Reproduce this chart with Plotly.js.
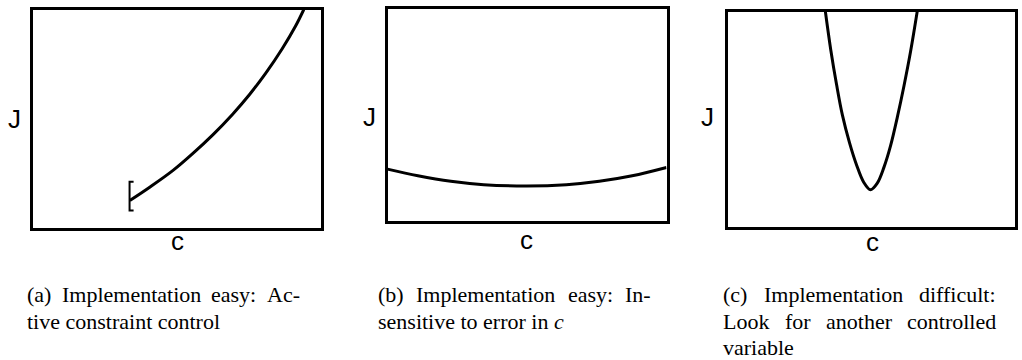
<!DOCTYPE html>
<html>
<head>
<meta charset="utf-8">
<script src="https://cdn.plot.ly/plotly-3.0.1.min.js"></script>
<style>html,body{margin:0;padding:0;background:#fff;}</style>
</head>
<body>
<div id="chart" style="width:1022px;height:360px;"></div>
<script>
// ---- data (c on 0..10, J on 0..10 in every panel) ----
// (a) cost keeps rising away from the active constraint
const cA = [3.38, 4.07, 4.88, 5.57, 6.26, 6.95, 7.53, 8.10, 8.67, 9.13, 9.42];
const jA = [1.24, 1.85, 2.62, 3.40, 4.25, 5.20, 6.09, 7.08, 8.20, 9.23, 10.0];
// constraint bracket at the lower end of curve (a)
const bracketC = [3.51, 3.37, 3.37, 3.51];
const bracketJ = [2.10, 2.10, 0.78, 0.78];
// (b) flat optimum
const cB = [0, 1.09, 2.27, 3.45, 4.99, 6.41, 7.59, 8.77, 10];
const jB = [2.44, 2.13, 1.87, 1.71, 1.65, 1.71, 1.87, 2.13, 2.52];
// (c) sharp optimum
const cC = [3.41, 3.60, 3.80, 4.00, 4.25, 4.50, 4.75, 4.98, 5.22, 5.45, 5.68, 5.92, 6.15, 6.38, 6.61];
const jC = [10, 8.20, 6.60, 5.20, 3.90, 2.85, 2.05, 1.71, 2.02, 2.75, 3.75, 5.10, 6.55, 8.15, 10];

// axis letters
const xLabel = 'c';
const yLabel = 'J';

// captions, one entry per printed line
const captionA = ['(a) Implementation easy:  Ac-', 'tive constraint control'];
const captionB = ['(b) Implementation easy:  In-', 'sensitive to error in <i>c</i>'];
const captionC = ['(c) Implementation difficult:', 'Look for another controlled', 'variable'];

// ---- page geometry (pixels) ----
const W = 1022, H = 360;
const px = x => x / W;
const py = y => 1 - y / H;

// inner edges of each frame: [left, right, top, bottom]
const frames = [
  [32.5, 320.5, 9.5, 227.5],
  [387.5, 666.5, 8.5, 221.0],
  [727.5, 1014.5, 11.5, 226.5]
];
const jPos = [[14.5, 119], [369, 117], [707, 117]];
const cPos = [[177.5, 241], [526, 240], [872.5, 242]];

const capLeft = [26, 377, 722];
const capWidth = 273;
const capSize = 22;
const capFamily = 'Liberation Serif, Times New Roman, Times, serif';
const capLines = [302 - 7.4, 328.5 - 7.4, 355 - 7.4];

function axisCfg(x0, x1, anchor) {
  return {
    domain: [x0, x1], range: [0, 10], anchor: anchor,
    showline: true, linewidth: 3, linecolor: '#000', mirror: true,
    showgrid: false, zeroline: false, showticklabels: false, ticks: '',
    fixedrange: true
  };
}

const curveLine = {color: '#000', width: 3, shape: 'spline', smoothing: 1};

const traces = [
  {x: cA, y: jA, xaxis: 'x', yaxis: 'y', mode: 'lines', line: curveLine, hoverinfo: 'skip'},
  {x: bracketC, y: bracketJ, xaxis: 'x', yaxis: 'y', mode: 'lines',
   line: {color: '#000', width: 2}, hoverinfo: 'skip'},
  {x: cB, y: jB, xaxis: 'x2', yaxis: 'y2', mode: 'lines', line: curveLine, hoverinfo: 'skip'},
  {x: cC, y: jC, xaxis: 'x3', yaxis: 'y3', mode: 'lines', line: curveLine, hoverinfo: 'skip'}
];

const layout = {
  width: W, height: H,
  margin: {l: 0, r: 0, t: 0, b: 0, pad: 0},
  paper_bgcolor: '#fff', plot_bgcolor: '#fff',
  showlegend: false,
  annotations: []
};

['', '2', '3'].forEach((s, i) => {
  const f = frames[i];
  layout['xaxis' + s] = axisCfg(px(f[0]), px(f[1]), 'y' + s);
  layout['yaxis' + s] = axisCfg(py(f[3]), py(f[2]), 'x' + s);
});

const labelFont = {family: 'Liberation Sans, Arial, Helvetica, sans-serif', size: 26, color: '#000'};
for (let i = 0; i < 3; i++) {
  layout.annotations.push({
    text: yLabel, xref: 'paper', yref: 'paper', x: px(jPos[i][0]), y: py(jPos[i][1]),
    xanchor: 'center', yanchor: 'middle', showarrow: false, font: labelFont, borderpad: 0
  });
  layout.annotations.push({
    text: xLabel, xref: 'paper', yref: 'paper', x: px(cPos[i][0]), y: py(cPos[i][1]),
    xanchor: 'center', yanchor: 'middle', showarrow: false, font: labelFont, borderpad: 0
  });
}

// justified caption lines: words are spread over the column width
const ctx = document.createElement('canvas').getContext('2d');
function wordWidth(w) {
  const italic = w.indexOf('<i>') >= 0;
  ctx.font = (italic ? 'italic ' : '') + capSize + 'px "Liberation Serif", serif';
  return ctx.measureText(w.replace(/<[^>]+>/g, '')).width;
}
const capFont = {family: capFamily, size: capSize, color: '#000'};
function addCaption(lines, left) {
  lines.forEach((line, k) => {
    const yc = capLines[k];
    const last = k === lines.length - 1;
    if (last) {
      layout.annotations.push({
        text: line, xref: 'paper', yref: 'paper', x: px(left), y: py(yc),
        xanchor: 'left', yanchor: 'middle', showarrow: false, font: capFont, borderpad: 0
      });
      return;
    }
    const words = line.split(/\s+/);
    const widths = words.map(wordWidth);
    const total = widths.reduce((a, b) => a + b, 0);
    const gap = (capWidth - total) / (words.length - 1);
    let x = left;
    words.forEach((w, j) => {
      layout.annotations.push({
        text: w, xref: 'paper', yref: 'paper', x: px(x), y: py(yc),
        xanchor: 'left', yanchor: 'middle', showarrow: false, font: capFont, borderpad: 0
      });
      x += widths[j] + gap;
    });
  });
}
addCaption(captionA, capLeft[0]);
addCaption(captionB, capLeft[1]);
addCaption(captionC, capLeft[2]);

Plotly.newPlot('chart', traces, layout, {staticPlot: true, displayModeBar: false});
</script>
</body>
</html>
